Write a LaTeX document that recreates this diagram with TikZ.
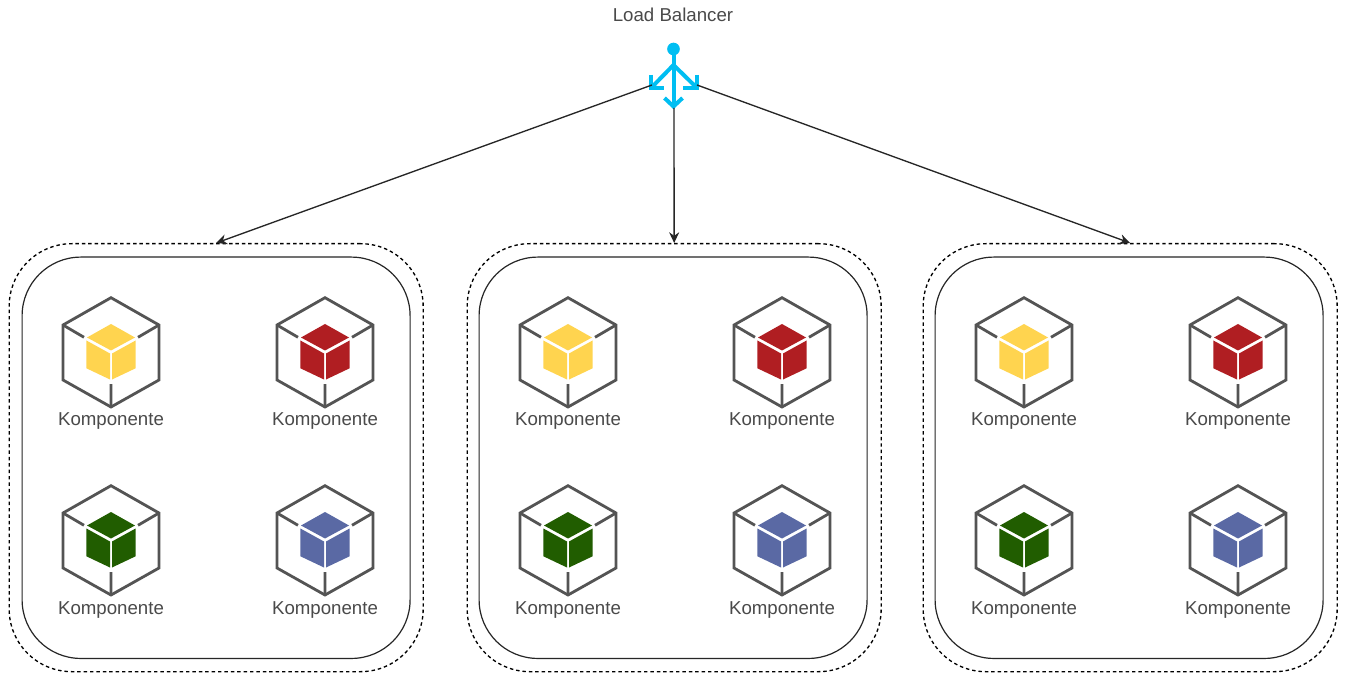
\documentclass[tikz,border=0pt]{standalone}
\usepackage{fontspec}
\setmainfont{Liberation Sans}
\usetikzlibrary{arrows.meta}
\definecolor{txt}{HTML}{4A4A4A}
\definecolor{frame}{HTML}{545454}
\definecolor{lbblue}{HTML}{00BEF2}
\definecolor{cyellow}{HTML}{FFD44F}
\definecolor{cred}{HTML}{B01E22}
\definecolor{cgreen}{HTML}{215D00}
\definecolor{cblue}{HTML}{5A69A4}
\tikzset{
  outerbox/.style={draw=black,line width=1pt,dash pattern=on 2.6pt off 2.2pt,rounded corners=47pt,
    minimum width=310.5pt,minimum height=321pt,inner sep=0pt,anchor=north west},
  innerbox/.style={draw=black!85,line width=0.9pt,rounded corners=44pt,
    minimum width=291pt,minimum height=301pt,inner sep=0pt,anchor=north west},
  lab/.style={text=txt,font=\fontsize{14}{16}\selectfont,inner sep=0pt},
  link/.style={draw=black!85,line width=1pt,-{Stealth[length=8pt,width=7.5pt]}},
  lbline/.style={draw=lbblue,line width=3pt},
  pics/cube/.style={code={
    \fill[#1] (0,-28) -- (24,-14.5) -- (0,-1.5) -- (-24,-14.5) -- cycle;
    \fill[#1] (-24.6,-11.5) -- (-1,1.5) -- (-1,27.5) -- (-24.6,16.3) -- cycle;
    \fill[#1] (24.6,-11.5) -- (1,1.5) -- (1,27.5) -- (24.6,16.3) -- cycle;
    \draw[frame,line width=2.1pt,line join=miter] (0,-54.3) -- (48,-27) -- (48,28) -- (0,55) -- (-48,28) -- (-48,-27) -- cycle;
    \draw[frame,line width=2.1pt] (-48,-27) -- (-27,-14.7) (48,-27) -- (27,-14.7) (0,55) -- (0,32);
  }}
}
\begin{document}
\begin{tikzpicture}[x=0.75pt,y=-0.75pt]
\useasboundingbox[fill=white] (0,0) rectangle (1345,673);
% containers
\node[outerbox] (outerA) at (8.5,243) {};
\node[innerbox] (innerA) at (21.5,256.5) {};
\node[outerbox] (outerB) at (466.5,243) {};
\node[innerbox] (innerB) at (478.5,256.5) {};
\node[outerbox] (outerC) at (922.5,243) {};
\node[innerbox] (innerC) at (934.5,256.5) {};
% cubes
\foreach \cx/\tag in {111/a,568/b,1024/c}{
  \pic at (\cx,352) {cube=cyellow};
  \node[lab] (k1\tag) at (\cx,421) {Komponente};
  \pic at (\cx,540) {cube=cgreen};
  \node[lab] (k3\tag) at (\cx,610) {Komponente};
}
\foreach \cx/\tag in {325/a,782/b,1238/c}{
  \pic at (\cx,352) {cube=cred};
  \node[lab] (k2\tag) at (\cx,421) {Komponente};
  \pic at (\cx,540) {cube=cblue};
  \node[lab] (k4\tag) at (\cx,610) {Komponente};
}
% load balancer
\node[lab] (lbtext) at (673,15) {Load Balancer};
\node[circle,fill=lbblue,minimum size=9.5pt,inner sep=0pt] (lb) at (673.5,49) {};
\draw[lbline] (lb.center) -- (673.5,106);
\draw[lbline] (673.5,65) -- (652,87);
\draw[lbline] (673.5,65) -- (696,87);
\draw[lbline,line join=miter] (651,75) -- (651,88.5) -- (664,88.5);
\draw[lbline,line join=miter] (697,75) -- (697,88.5) -- (683,88.5);
\draw[lbline,line join=miter] (664.5,98) -- (673.5,106.5) -- (682.5,98);
\coordinate (lbL) at (652,85);
\coordinate (lbM) at (674,108);
\coordinate (lbR) at (697,85);
% connectors
\draw[link] (lbL) -- (outerA.north);
\draw[link] (lbM) -- (outerB.north);
\draw[link] (lbR) -- (outerC.north);
\end{tikzpicture}
\end{document}
